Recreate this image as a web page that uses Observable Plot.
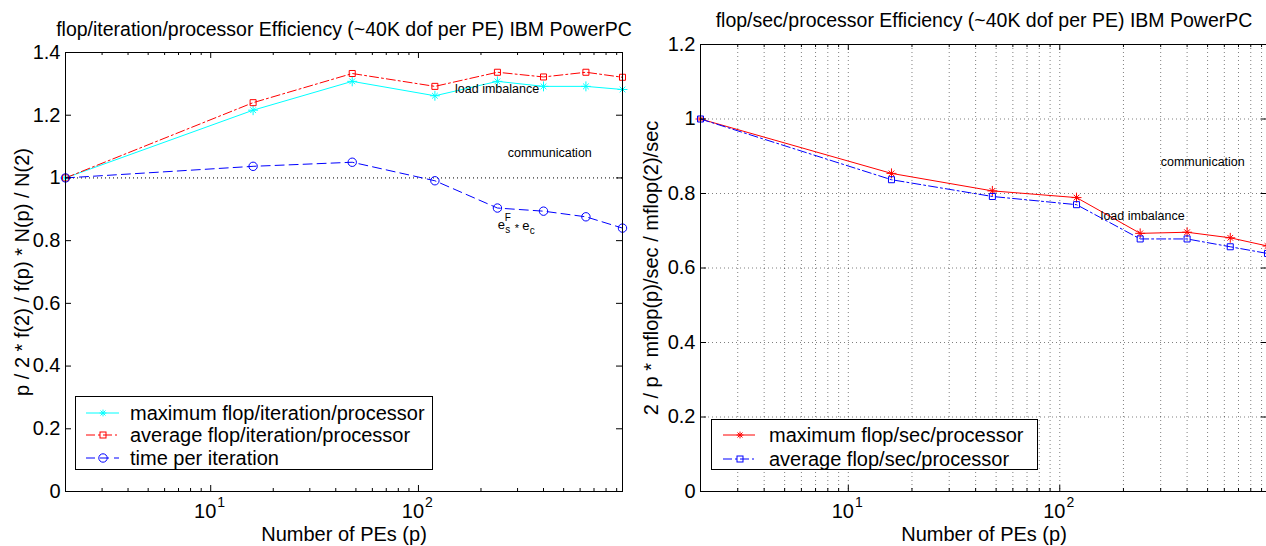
<!DOCTYPE html>
<html><head><meta charset="utf-8">
<script src="https://cdn.jsdelivr.net/npm/d3@7"></script>
<script src="https://cdn.jsdelivr.net/npm/@observablehq/plot@0.6"></script>
<style>
html,body{margin:0;padding:0;background:#fff;overflow:hidden;}
#wrap{position:relative;width:1266px;height:546px;overflow:hidden;font-family:"Liberation Sans",Arial,Helvetica,sans-serif;background:#fff;}
.panel{position:absolute;top:0;width:640px;height:546px;}
.panel svg{max-width:none;}
.legend{position:absolute;box-sizing:border-box;border:1px solid #000;background:#fff;font-size:20px;color:#000;}
.row{position:absolute;left:0;right:0;height:22px;}
.row svg{position:absolute;top:0;left:0;overflow:visible;}
.row span{position:absolute;white-space:nowrap;line-height:22px;top:0;}
</style></head><body><div id="wrap"></div>
<script>
// ---------- data ----------
const pes = [2, 16, 48, 120, 240, 400, 640, 960];
const maxFlopIter = [1.0, 1.216, 1.308, 1.262, 1.308, 1.292, 1.292, 1.282];
const avgFlopIter = [1.0, 1.240, 1.333, 1.292, 1.337, 1.322, 1.337, 1.321];
const timePerIter = [1.0, 1.037, 1.050, 0.991, 0.904, 0.894, 0.876, 0.840];
const maxFlopSec = [1.0, 0.854, 0.807, 0.789, 0.693, 0.696, 0.681, 0.659];
const avgFlopSec = [1.0, 0.837, 0.792, 0.770, 0.678, 0.678, 0.657, 0.639];

const xMajorTicks = [10, 100];
const xMinorTicks = [3, 4, 5, 6, 7, 8, 9, 20, 30, 40, 50, 60, 70, 80, 90, 200, 300, 400, 500, 600, 700, 800, 900];
const yTicksLeft = [0, 0.2, 0.4, 0.6, 0.8, 1.0, 1.2, 1.4];
const yTicksRight = [0, 0.2, 0.4, 0.6, 0.8, 1.0, 1.2];
const refLine = [1];

const titleLeft = "flop/iteration/processor Efficiency (~40K dof per PE) IBM PowerPC";
const titleRight = "flop/sec/processor Efficiency (~40K dof per PE) IBM PowerPC";
const yLabelLeft = "p / 2 * f(2) / f(p) * N(p) / N(2)";
const yLabelRight = "2 / p * mflop(p)/sec / mflop(2)/sec";
const xLabel = "Number of PEs (p)";

const legendLeft = ["maximum flop/iteration/processor", "average flop/iteration/processor", "time per iteration"];
const legendRight = ["maximum flop/sec/processor", "average flop/sec/processor"];

const notesLeft = [
  {label: "load imbalance", p: 150, v: 1.285},
  {label: "communication", p: 269, v: 1.081}
];
const notesRight = [
  {label: "communication", p: 300, v: 0.884},
  {label: "load imbalance", p: 156, v: 0.740}
];
// e_s^F * e_c annotation anchor and pieces
const effNote = [{p: 241, v: 0.8496}];
const effPieces = [
  {t: "e", dx: 0, dy: 0, fs: 13},
  {t: "s", dx: 7.5, dy: 5, fs: 10},
  {t: "F", dx: 7, dy: -7, fs: 10},
  {t: "*", dx: 17, dy: 3, fs: 11},
  {t: "e", dx: 24.5, dy: 1, fs: 13},
  {t: "c", dx: 32, dy: 6, fs: 10}
];

const leftRows = pes.map((p, i) => ({p, max: maxFlopIter[i], avg: avgFlopIter[i], time: timePerIter[i]}));
const rightRows = pes.map((p, i) => ({p, max: maxFlopSec[i], avg: avgFlopSec[i]}));

// ---------- helpers ----------
const FONT = "'Liberation Sans', Arial, Helvetica, sans-serif";
const H = 546, W = 640;
const fmt = d => String(+d.toFixed(1));
const DASH = "9,5", DASHDOT = "9,3,2,3";

function starMarks(rows, key, color) {
  return [
    Plot.dot(rows, {x: "p", y: key, symbol: "plus", stroke: color, fill: "none", r: 3.3, strokeWidth: 1}),
    Plot.dot(rows, {x: "p", y: key, symbol: "times", stroke: color, fill: "none", r: 2.7, strokeWidth: 1})
  ];
}

function axisMarks(yTicks, pw, ph) {
  return [
    Plot.tickX(xMinorTicks, {x: d => d, insetTop: ph - 3, stroke: "#000"}),
    Plot.tickX(xMinorTicks, {x: d => d, insetBottom: ph - 3, stroke: "#000"}),
    Plot.tickX(xMajorTicks, {x: d => d, insetTop: ph - 6, stroke: "#000"}),
    Plot.tickX(xMajorTicks, {x: d => d, insetBottom: ph - 6, stroke: "#000"}),
    Plot.tickY(yTicks, {y: d => d, insetRight: pw - 6, stroke: "#000"}),
    Plot.tickY(yTicks, {y: d => d, insetLeft: pw - 6, stroke: "#000"}),
    Plot.text(yTicks, {y: d => d, frameAnchor: "left", textAnchor: "end", lineAnchor: "middle", dx: -5, text: fmt, fontSize: 20, fill: "#000"}),
    Plot.text(xMajorTicks, {x: d => d, frameAnchor: "bottom", textAnchor: "middle", lineAnchor: "middle", text: () => "10", dx: -5.5, dy: 20.5, fontSize: 20, fill: "#000"}),
    Plot.text(xMajorTicks, {x: d => d, frameAnchor: "bottom", textAnchor: "middle", lineAnchor: "middle", text: d => String(Math.round(Math.log10(d))), dx: 10.5, dy: 11, fontSize: 14, fill: "#000"})
  ];
}

function labelMarks(title, titleDy, ylabel, ylabelDx) {
  return [
    Plot.text([title], {frameAnchor: "top", textAnchor: "middle", lineAnchor: "middle", dy: titleDy, fontSize: 19.5, fill: "#000"}),
    Plot.text([ylabel], {frameAnchor: "left", textAnchor: "middle", lineAnchor: "middle", rotate: -90, dx: ylabelDx, fontSize: 20, fill: "#000"}),
    Plot.text([xLabel], {frameAnchor: "bottom", textAnchor: "middle", lineAnchor: "middle", dy: 43.5, fontSize: 20, fill: "#000"})
  ];
}

// ---------- left panel ----------
const lML = 65, lMR = 18, lMT = 52, lMB = 55;
const lPW = W - lML - lMR, lPH = H - lMT - lMB;
const left = Plot.plot({
  width: W, height: H,
  marginLeft: lML, marginRight: lMR, marginTop: lMT, marginBottom: lMB,
  x: {type: "log", domain: [2, 960], axis: null},
  y: {domain: [0, 1.4], axis: null},
  style: {fontFamily: FONT, fontSize: "20px", color: "#000", background: "transparent", overflow: "visible"},
  marks: [
    Plot.ruleY(refLine, {y: d => d, stroke: "#000", strokeDasharray: "1,3", strokeWidth: 1}),
    Plot.line(leftRows, {x: "p", y: "max", stroke: "#00ffff", strokeWidth: 1}),
    ...starMarks(leftRows, "max", "#00ffff"),
    Plot.line(leftRows, {x: "p", y: "avg", stroke: "#ff0000", strokeWidth: 1, strokeDasharray: DASHDOT}),
    Plot.dot(leftRows, {x: "p", y: "avg", symbol: "square", stroke: "#ff0000", fill: "none", r: 3.4, strokeWidth: 1}),
    Plot.line(leftRows, {x: "p", y: "time", stroke: "#0000ff", strokeWidth: 1, strokeDasharray: DASH}),
    Plot.dot(leftRows, {x: "p", y: "time", symbol: "circle", stroke: "#0000ff", fill: "none", r: 4.2, strokeWidth: 1}),
    ...axisMarks(yTicksLeft, lPW, lPH),
    Plot.text(notesLeft, {x: "p", y: "v", text: "label", textAnchor: "start", fontSize: 12.5, fill: "#000"}),
    ...effPieces.map(q => Plot.text(effNote, {x: "p", y: "v", text: () => q.t, textAnchor: "start", dx: q.dx, dy: q.dy, fontSize: q.fs, fill: "#000"})),
    ...labelMarks(titleLeft, -23, yLabelLeft, -43),
    Plot.frame({stroke: "#000", strokeWidth: 1})
  ]
});

// ---------- right panel ----------
const rML = 65, rMR = 8, rMT = 44, rMB = 55;
const rPW = W - rML - rMR, rPH = H - rMT - rMB;
const xGrid = [...xMinorTicks, ...xMajorTicks];
const right = Plot.plot({
  width: W, height: H,
  marginLeft: rML, marginRight: rMR, marginTop: rMT, marginBottom: rMB,
  x: {type: "log", domain: [2, 960], axis: null},
  y: {domain: [0, 1.2], axis: null},
  style: {fontFamily: FONT, fontSize: "20px", color: "#000", background: "transparent", overflow: "visible"},
  marks: [
    Plot.ruleX(xGrid, {x: d => d, stroke: "#000", strokeOpacity: 0.5, strokeDasharray: "1,3", strokeWidth: 1}),
    Plot.ruleY(yTicksRight, {y: d => d, stroke: "#000", strokeOpacity: 0.5, strokeDasharray: "1,3", strokeWidth: 1}),
    Plot.line(rightRows, {x: "p", y: "max", stroke: "#ff0000", strokeWidth: 1}),
    ...starMarks(rightRows, "max", "#ff0000"),
    Plot.line(rightRows, {x: "p", y: "avg", stroke: "#0000ff", strokeWidth: 1, strokeDasharray: DASHDOT}),
    Plot.dot(rightRows, {x: "p", y: "avg", symbol: "square", stroke: "#0000ff", fill: "none", r: 3.4, strokeWidth: 1}),
    ...axisMarks(yTicksRight, rPW, rPH),
    Plot.text(notesRight, {x: "p", y: "v", text: "label", textAnchor: "start", fontSize: 12.5, fill: "#000"}),
    ...labelMarks(titleRight, -24, yLabelRight, -49),
    Plot.frame({stroke: "#000", strokeWidth: 1})
  ]
});

const wrap = document.getElementById("wrap");
const pl = document.createElement("div"); pl.className = "panel"; pl.style.left = "0px"; pl.appendChild(left);
const pr = document.createElement("div"); pr.className = "panel"; pr.style.left = "635px"; pr.appendChild(right);
wrap.appendChild(pl); wrap.appendChild(pr);

// ---------- legends ----------
function markerSVG(kind, color) {
  if (kind === "star") return `<path d="M-3.4,0H3.4M0,-3.4V3.4M-2.5,-2.5L2.5,2.5M-2.5,2.5L2.5,-2.5" stroke="${color}" fill="none"/>`;
  if (kind === "square") return `<rect x="-3" y="-3" width="6" height="6" stroke="${color}" fill="none"/>`;
  return `<circle r="4.2" stroke="${color}" fill="none"/>`;
}
function makeLegend(box, entries) {
  const lg = document.createElement("div");
  lg.className = "legend";
  Object.assign(lg.style, {left: box.x + "px", top: box.y + "px", width: box.w + "px", height: box.h + "px"});
  entries.forEach((e, i) => {
    const row = document.createElement("div");
    row.className = "row";
    row.style.top = (box.rows[i] - 11) + "px";
    row.innerHTML =
      `<svg width="${box.w}" height="22"><line x1="${box.l0}" x2="${box.l1}" y1="11" y2="11" stroke="${e.color}" stroke-width="1" ${e.dash ? `stroke-dasharray="${e.dash}"` : ""}/>` +
      `<g transform="translate(${box.m},11)">${markerSVG(e.marker, e.color)}</g></svg>` +
      `<span style="left:${box.t}px">${e.label}</span>`;
    lg.appendChild(row);
  });
  wrap.appendChild(lg);
}
makeLegend({x: 75, y: 396, w: 358, h: 74, rows: [15.5, 37.5, 60.5], l0: 10, l1: 43, m: 27, t: 54},
  [{label: legendLeft[0], color: "#00ffff", marker: "star", dash: null},
   {label: legendLeft[1], color: "#ff0000", marker: "square", dash: DASHDOT},
   {label: legendLeft[2], color: "#0000ff", marker: "circle", dash: DASH}]);
makeLegend({x: 711, y: 419, w: 327, h: 51, rows: [14.5, 38.5], l0: 11, l1: 43, m: 28, t: 57},
  [{label: legendRight[0], color: "#ff0000", marker: "star", dash: null},
   {label: legendRight[1], color: "#0000ff", marker: "square", dash: DASHDOT}]);
</script>
</body></html>
